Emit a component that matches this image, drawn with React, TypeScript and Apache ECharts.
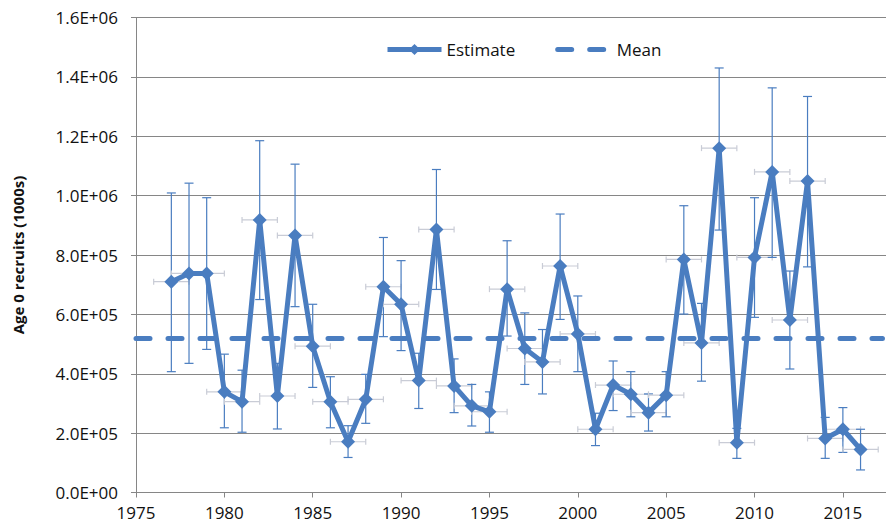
import { useEffect, useRef } from "react"
import * as echarts from "echarts"

const years = [
    1977, 1978, 1979, 1980, 1981, 1982, 1983, 1984, 1985, 1986,
    1987, 1988, 1989, 1990, 1991, 1992, 1993, 1994, 1995, 1996,
    1997, 1998, 1999, 2000, 2001, 2002, 2003, 2004, 2005, 2006,
    2007, 2008, 2009, 2010, 2011, 2012, 2013, 2014, 2015, 2016,
]

const estimate = [
    710000, 738000, 738000, 339000, 306000, 918000, 325000, 866000, 493000, 306000,
    171000, 314000, 693000, 634000, 377000, 886000, 359000, 292000, 272000, 685000,
    485000, 440000, 763000, 534000, 213000, 362000, 331000, 269000, 328000, 785000,
    504000, 1160000, 168000, 792000, 1080000, 581000, 1049000, 182000, 213000, 145000,
]

const upper = [
    1009000, 1042000, 993000, 466000, 412000, 1185000, 435000, 1106000, 634000, 390000,
    225000, 398000, 859000, 781000, 469000, 1088000, 450000, 364000, 339000, 848000,
    605000, 549000, 938000, 662000, 267000, 443000, 407000, 332000, 407000, 966000,
    637000, 1430000, 216000, 993000, 1363000, 746000, 1334000, 253000, 286000, 213000,
]

const lower = [
    407000, 435000, 482000, 218000, 203000, 650000, 214000, 626000, 354000, 218000,
    118000, 233000, 525000, 478000, 283000, 684000, 269000, 224000, 203000, 527000,
    364000, 332000, 583000, 407000, 158000, 276000, 255000, 207000, 255000, 601000,
    375000, 884000, 115000, 590000, 792000, 416000, 760000, 115000, 135000, 76000,
]

// horizontal error (years) on each estimate
const yearError = 1

const meanValue = 519000
const xMin = 1975
const xMax = 2017.44

const BLUE = "#4a7dc0"
const FONT = "'Open Sans', sans-serif"

export default function App() {
    const chartRef = useRef<HTMLDivElement>(null)

    useEffect(() => {
        document.body.style.margin = "0"
        if (!chartRef.current) return
        const chart = echarts.init(chartRef.current, null, { renderer: "svg" })

        const errData = years.map((y, i) => [y, lower[i], upper[i], estimate[i]])

        chart.setOption({
            animation: false,
            textStyle: { fontFamily: FONT },
            legend: {
                left: 380,
                top: 36,
                itemWidth: 54,
                itemHeight: 14,
                itemGap: 40,
                textStyle: { fontSize: 17, color: "#111", fontFamily: FONT },
                data: [
                    { name: "Estimate", lineStyle: { width: 5 } },
                    { name: "Mean", lineStyle: { width: 5 }, itemStyle: { opacity: 0 } },
                ],
            },
            grid: { left: 136, right: 0, top: 17.5, bottom: 36.5 },
            xAxis: {
                type: "value",
                min: xMin,
                max: xMax,
                interval: 5,
                axisLine: { show: true, onZero: false, lineStyle: { color: "#868686", width: 1 } },
                axisTick: { show: true, length: 5, lineStyle: { color: "#868686" } },
                axisLabel: {
                    fontSize: 17,
                    color: "#111",
                    margin: 11,
                    showMaxLabel: false,
                    formatter: (v: number) => (v % 5 === 0 ? String(v) : ""),
                },
                splitLine: { show: false },
            },
            yAxis: {
                type: "value",
                min: 0,
                max: 1600000,
                interval: 200000,
                name: "Age 0 recruits (1000s)",
                nameLocation: "middle",
                nameRotate: 90,
                nameGap: 111,
                nameTextStyle: { fontSize: 15, fontWeight: "bold", color: "#111", fontFamily: FONT },
                axisLine: { show: true, lineStyle: { color: "#868686", width: 1 } },
                axisTick: { show: true, length: 5, lineStyle: { color: "#868686" } },
                axisLabel: {
                    fontSize: 17,
                    color: "#111",
                    margin: 18,
                    formatter: (v: number) => v.toExponential(1).toUpperCase().replace(/E([+-])(\d)$/, "E$10$2"),
                },
                splitLine: { show: true, lineStyle: { color: "#868686", width: 1 } },
            },
            series: [
                {
                    name: "errors",
                    type: "custom",
                    z: 1,
                    data: errData,
                    renderItem: (params: any, api: any) => {
                        const x = api.value(0)
                        const lo = api.value(1)
                        const hi = api.value(2)
                        const est = api.value(3)
                        const top = api.coord([x, hi])
                        const bot = api.coord([x, lo])
                        const left = api.coord([x - yearError, est])
                        const right = api.coord([x + yearError, est])
                        const vStyle = { stroke: BLUE, lineWidth: 1.2 }
                        const hStyle = { stroke: "#c9ccd6", lineWidth: 1.2 }
                        const cw = 4.5
                        const ch = 3
                        return {
                            type: "group",
                            children: [
                                { type: "line", shape: { x1: left[0], y1: left[1], x2: right[0], y2: right[1] }, style: hStyle },
                                { type: "line", shape: { x1: left[0], y1: left[1] - ch, x2: left[0], y2: left[1] + ch }, style: hStyle },
                                { type: "line", shape: { x1: right[0], y1: right[1] - ch, x2: right[0], y2: right[1] + ch }, style: hStyle },
                                { type: "line", shape: { x1: top[0], y1: top[1], x2: bot[0], y2: bot[1] }, style: vStyle },
                                { type: "line", shape: { x1: top[0] - cw, y1: top[1], x2: top[0] + cw, y2: top[1] }, style: vStyle },
                                { type: "line", shape: { x1: bot[0] - cw, y1: bot[1], x2: bot[0] + cw, y2: bot[1] }, style: vStyle },
                            ],
                        }
                    },
                },
                {
                    name: "Mean",
                    type: "line",
                    z: 2,
                    symbol: "none",
                    data: [
                        [xMin, meanValue],
                        [xMax - 0.2, meanValue],
                    ],
                    lineStyle: { color: BLUE, width: 5, type: [14, 18], cap: "round" },
                    itemStyle: { color: BLUE },
                },
                {
                    name: "Estimate",
                    type: "line",
                    z: 3,
                    symbol: "diamond",
                    symbolSize: 14,
                    data: years.map((y, i) => [y, estimate[i]]),
                    lineStyle: { color: BLUE, width: 5 },
                    itemStyle: { color: BLUE },
                },
            ],
        })

        return () => {
            chart.dispose()
        }
    }, [])

    return <div ref={chartRef} style={{ width: 886, height: 529 }} />
}
